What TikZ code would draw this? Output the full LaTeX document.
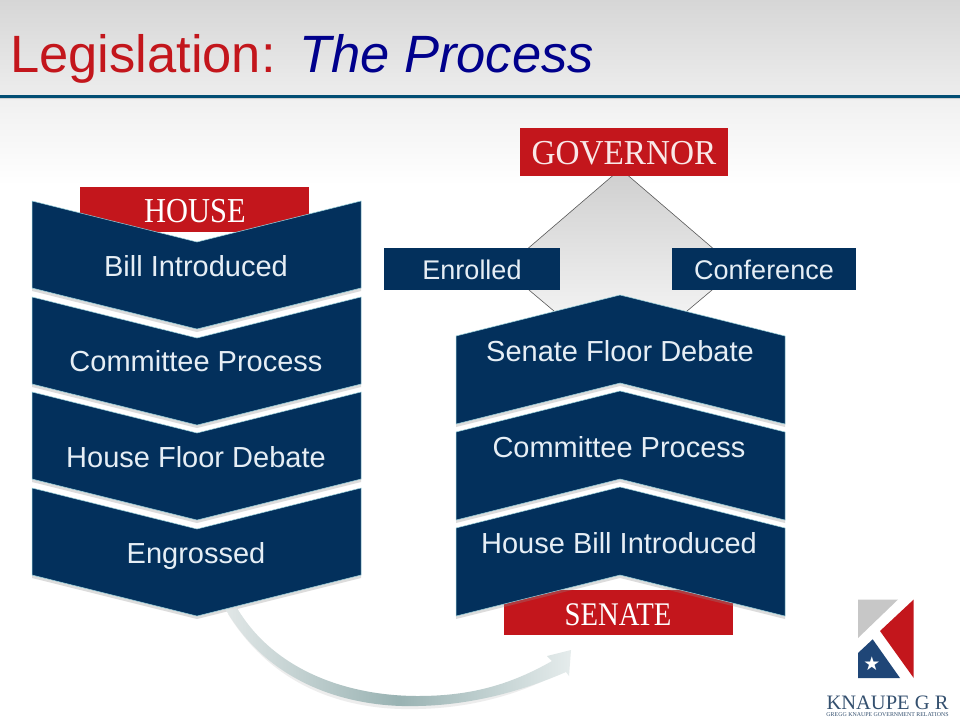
\documentclass[tikz,border=0pt]{standalone}
\usepackage{fontspec}
\setmainfont{Liberation Sans}
\newfontfamily\capsfont[FakeStretch=0.87]{Liberation Serif}
\newfontfamily\govfont[FakeStretch=0.95]{Liberation Serif}
\newfontfamily\logofont{Liberation Serif}
\definecolor{navy}{HTML}{03305C}
\definecolor{redbox}{HTML}{C3161C}
\definecolor{boxtext}{HTML}{E6EEF5}
\definecolor{logoblue}{HTML}{1F4677}
\definecolor{logotext}{HTML}{34506F}
\tikzset{
  chevron/.style={fill=navy,draw=navy!55!cyan!40,line width=0.5pt},
  soft/.style={fill=black!45,opacity=0.3,draw=none},
  redbox/.style={fill=redbox,draw=none},
  navybox/.style={fill=navy,draw=none},
  bodytext/.style={anchor=base,text=boxtext,font=\fontsize{29}{29}\selectfont,inner sep=0pt},
  sidetext/.style={anchor=base,text=boxtext,font=\fontsize{27}{27}\selectfont,inner sep=0pt},
  captext/.style={anchor=base,text=white,inner sep=0pt},
}
\newcommand{\downchev}[1]{%
  \path[soft] (32,#1+3) -- (197,#1+43) -- (361,#1+3) -- (361,#1+90) -- (197,#1+131) -- (32,#1+90) -- cycle;
  \path[chevron] (32,#1) -- (197,#1+41) -- (361,#1) -- (361,#1+87) -- (197,#1+128) -- (32,#1+87) -- cycle;}
\newcommand{\upchev}[1]{%
  \path[soft] (456,#1+44) -- (620,#1+3) -- (785,#1+44) -- (785,#1+132) -- (620,#1+91) -- (456,#1+132) -- cycle;
  \path[chevron] (456,#1+41) -- (620,#1) -- (785,#1+41) -- (785,#1+129) -- (620,#1+88) -- (456,#1+129) -- cycle;}
\begin{document}
\begin{tikzpicture}[x=1pt,y=-1pt]
\useasboundingbox (0,0) rectangle (960,720);
\fill[white] (0,0) rectangle (960,720);
% header background
\shade[top color=black!16,bottom color=black!7] (0,0) rectangle (960,96);
\shade[top color=black!6,bottom color=white] (0,96) rectangle (960,185);
\fill[black!30,opacity=0.5] (0,97) rectangle (960,99);
\fill[navy!85!cyan] (0,95) rectangle (960,97.5);
% title
\node[anchor=base west,inner sep=0pt,text=redbox,font=\fontsize{52.5}{52}\selectfont] (title1) at (10,72) {Legislation:};
\node[anchor=base west,inner sep=0pt,text=blue!55!black,font=\fontsize{52.5}{52}\selectfont\itshape] (title2) at (299,72) {The Process};
% diamond behind the governor branch
\shade[top color=black!19,bottom color=white,draw=black!65,line width=0.6pt] (620.5,169) -- (504,269) -- (620.5,367) -- (737,269) -- cycle;
% House column
\path[redbox] (80,187) rectangle (309,232);
\downchev{488}
\downchev{392}
\downchev{297}
\downchev{201}
\node[captext,font=\capsfont\fontsize{35}{35}\selectfont] (house) at (195,222.5) {HOUSE};
\node[bodytext] (n1) at (196,276.5) {Bill Introduced};
\node[bodytext] (n2) at (196,371.5) {Committee Process};
\node[bodytext] (n3) at (196,467.5) {House Floor Debate};
\node[bodytext] (n4) at (196,563.5) {Engrossed};
% Governor and side boxes
\path[redbox] (520,128) rectangle (728,176);
\node[captext,text=white!90!redbox,font=\govfont\fontsize{35}{35}\selectfont] (gov) at (624,164) {GOVERNOR};
\path[navybox] (384,248) rectangle (560,290);
\path[navybox] (672,248) rectangle (856,290);
\node[sidetext] (enrolled) at (472,279.5) {Enrolled};
\node[sidetext] (conf) at (764,279.5) {Conference};
% Senate column
\path[redbox] (504,590) rectangle (733,635);
\upchev{487}
\upchev{391}
\upchev{295}
\node[bodytext] (s1) at (620,361.5) {Senate Floor Debate};
\node[bodytext] (s2) at (619,457.5) {Committee Process};
\node[bodytext] (s3) at (619,553.5) {House Bill Introduced};
\node[captext,font=\capsfont\fontsize{33}{33}\selectfont] (senate) at (618,625) {SENATE};
% curved arrow
\fill[black!20,opacity=0.35] (228,614) .. controls (275,690) and (350,711) .. (418,709) .. controls (470,708) and (520,695) .. (563,671) -- (557,661) .. controls (510,690) and (470,699) .. (418,699) .. controls (350,699) and (275,675) .. (238,614) -- cycle;
\shade[left color=cyan!20!black!12,right color=cyan!25!black!10,middle color=cyan!25!black!40]
  (226,610) .. controls (270,685) and (350,708) .. (418,706) .. controls (470,705) and (520,692) .. (566,672)
  -- (569,676) -- (571,650) -- (547,656) -- (552,661)
  .. controls (510,685) and (470,696) .. (418,696) .. controls (350,696) and (275,672) .. (237,608) -- cycle;
% logo
\fill[black!22] (858,599.5) -- (898,599.5) -- (858,638) -- cycle;
\fill[redbox] (913.7,599.5) -- (913.7,678) -- (880,631) -- cycle;
\fill[logoblue] (858,653) -- (872.7,639.3) -- (900,678) -- (858,678) -- cycle;
\node[anchor=center,inner sep=0pt,text=white] (star) at (872,664) {\fontspec{DejaVu Sans}\fontsize{19}{19}\selectfont ★};
\node[anchor=base,inner sep=0pt,text=logotext,font=\logofont\fontsize{20.5}{21}\selectfont] (logo1) at (887.5,709) {KNAUPE G R};
\node[anchor=base,inner sep=0pt,text=logotext,font=\logofont\fontsize{5.9}{6}\selectfont] (logo2) at (887.5,716.5) {GREGG KNAUPE GOVERNMENT RELATIONS};
\end{tikzpicture}
\end{document}
